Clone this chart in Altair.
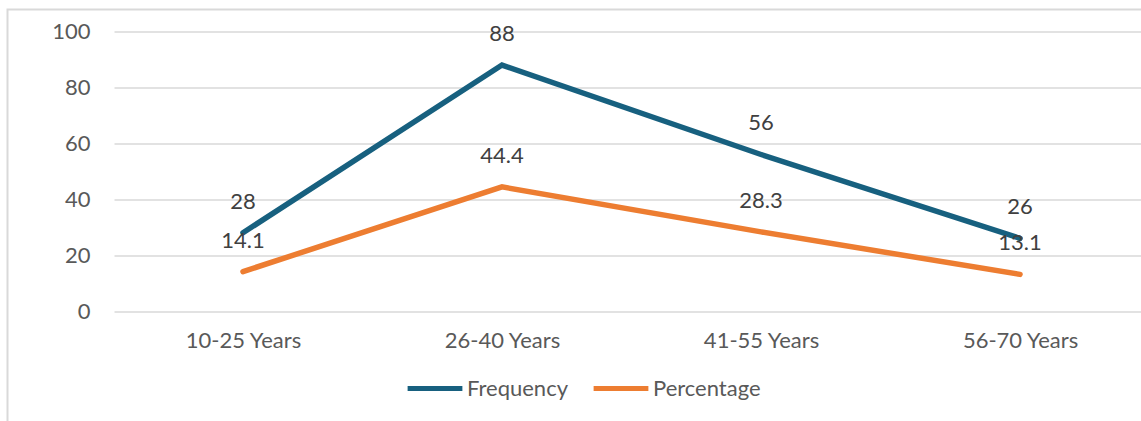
import altair as alt
import pandas as pd

# Age groups and the two series drawn for each group
age_groups = ["10-25 Years", "26-40 Years", "41-55 Years", "56-70 Years"]
frequency = [28, 88, 56, 26]
percentage = [14.1, 44.4, 28.3, 13.1]
series_names = ["Frequency", "Percentage"]
series_colors = ["#17607F", "#ED7D31"]

rows = []
for name, values in zip(series_names, [frequency, percentage]):
    for i, (grp, v) in enumerate(zip(age_groups, values)):
        rows.append({"idx": i, "group": grp, "series": name, "value": v})
df = pd.DataFrame(rows)

FONT = "Lato"
FS = 22
PLOT_W = 1027
PLOT_H = 279.5

# Category positions on a continuous axis; labels come from age_groups
label_expr = "[" + ",".join(f"'{g}'" for g in age_groups) + "][datum.value]"

x_enc = alt.X(
    "idx:Q",
    scale=alt.Scale(domain=[-0.498, 3.467], nice=False, zero=False),
    axis=alt.Axis(
        title=None, values=list(range(len(age_groups))), labelExpr=label_expr,
        domain=False, ticks=False, labelAngle=0, grid=False,
        labelFontSize=FS, labelColor="#595959", labelFont=FONT, labelPadding=19,
    ),
)
y_enc = alt.Y(
    "value:Q",
    scale=alt.Scale(domain=[0, 100], nice=False),
    axis=alt.Axis(
        title=None, values=[0, 20, 40, 60, 80, 100], domain=False, ticks=False,
        labelFontSize=FS, labelColor="#595959", labelFont=FONT, labelPadding=24,
        grid=True, gridColor="#D9D9D9", gridWidth=1.5,
    ),
)
color_enc = alt.Color(
    "series:N",
    scale=alt.Scale(domain=series_names, range=series_colors),
    legend=alt.Legend(
        title=None, orient="none", direction="horizontal",
        legendX=291, legendY=327,
        symbolType="stroke", symbolSize=3000, symbolStrokeWidth=5,
        labelFontSize=FS, labelColor="#595959", labelFont=FONT,
        labelOffset=2, columnPadding=15,
    ),
)

# Chart-area frame around the whole figure
frame = alt.Chart(pd.DataFrame({"k": [0]})).mark_rect(
    fillOpacity=0, stroke="#D9D9D9", strokeWidth=2
).encode(
    x=alt.value(-106.5), x2=alt.value(1200),
    y=alt.value(-22), y2=alt.value(500),
)

lines = alt.Chart(df).mark_line(strokeWidth=5.5, strokeCap="round", strokeJoin="miter").encode(
    x=x_enc, y=y_enc, color=color_enc,
)

labels = alt.Chart(df).mark_text(
    dy=-31, fontSize=FS, font=FONT, color="#404040"
).encode(
    x=x_enc,
    y=y_enc,
    text=alt.Text("value:Q"),
)

chart = alt.layer(frame, lines, labels).properties(
    width=PLOT_W, height=PLOT_H,
    autosize=alt.AutoSizeParams(type="none"),
    padding={"left": 114, "top": 31.5, "right": 0, "bottom": 110},
).configure(background="white").configure_view(stroke=None, strokeWidth=0)

chart.save("out.html", embed_options={"renderer": "svg", "actions": False})
